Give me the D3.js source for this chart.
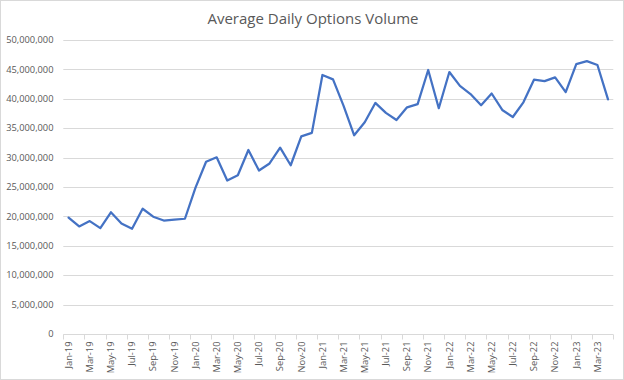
<!DOCTYPE html>
<html><head><meta charset="utf-8">
<script src="https://cdn.jsdelivr.net/npm/d3@7"></script>
<style>body{margin:0;background:#fff}svg{display:block}</style>
</head><body>
<svg id="c" width="624" height="380"></svg>
<script>
const categories = [
  "Jan-19","Feb-19","Mar-19","Apr-19","May-19","Jun-19","Jul-19","Aug-19","Sep-19","Oct-19","Nov-19","Dec-19",
  "Jan-20","Feb-20","Mar-20","Apr-20","May-20","Jun-20","Jul-20","Aug-20","Sep-20","Oct-20","Nov-20","Dec-20",
  "Jan-21","Feb-21","Mar-21","Apr-21","May-21","Jun-21","Jul-21","Aug-21","Sep-21","Oct-21","Nov-21","Dec-21",
  "Jan-22","Feb-22","Mar-22","Apr-22","May-22","Jun-22","Jul-22","Aug-22","Sep-22","Oct-22","Nov-22","Dec-22",
  "Jan-23","Feb-23","Mar-23","Apr-23"
];
const values = [
  19800000,18300000,19200000,18000000,20700000,18800000,17900000,21300000,19950000,19300000,19450000,19600000,
  24900000,29300000,30050000,26100000,27000000,31300000,27800000,29000000,31700000,28700000,33600000,34200000,
  44050000,43300000,38800000,33800000,36000000,39300000,37600000,36400000,38550000,39100000,44900000,38400000,
  44550000,42200000,40800000,38900000,40900000,38100000,36900000,39400000,43250000,43000000,43650000,41150000,
  45900000,46400000,45750000,39900000
];
const yTicks = [0,5e6,10e6,15e6,20e6,25e6,30e6,35e6,40e6,45e6,50e6];
const title = "Average Daily Options Volume";

const svg = d3.select("#c");
svg.append("rect").attr("x",0.5).attr("y",0.5).attr("width",623).attr("height",379)
  .attr("fill","#fff").attr("stroke","#d9d9d9");

const pLeft = 63.3, pRight = 613.3, pTop = 40, pBottom = 334;
const x = d3.scaleBand().domain(categories).range([pLeft, pRight]).padding(0);
const y = d3.scaleLinear().domain([0, 50e6]).range([pBottom, pTop]);
const font = "'Open Sans', 'Liberation Sans', sans-serif";

svg.append("g").selectAll("line").data(yTicks.filter(d => d > 0)).join("line")
  .attr("x1", pLeft).attr("x2", pRight)
  .attr("y1", d => Math.round(y(d)) + 0.5).attr("y2", d => Math.round(y(d)) + 0.5)
  .attr("stroke", "#d9d9d9").attr("stroke-width", 1);

const fmt = d3.format(",");
svg.append("g").selectAll("text").data(yTicks).join("text")
  .attr("x", 53.5).attr("y", d => y(d)).attr("dy", "0.35em")
  .attr("text-anchor", "end").attr("font-family", font).attr("font-size", 9.3)
  .attr("fill", "#595959").text(d => fmt(d));

const xAxis = svg.append("g").attr("transform", `translate(0,${pBottom + 0.5})`);
xAxis.append("line").attr("x1", pLeft).attr("x2", pRight).attr("stroke", "#d9d9d9");
const tickCats = categories.filter((d, i) => i % 2 === 0);
const tickPos = tickCats.map(d => x(d)).concat([pRight]);
xAxis.selectAll("line.t").data(tickPos).join("line").attr("class","t")
  .attr("x1", d => Math.round(d) + 0.5).attr("x2", d => Math.round(d) + 0.5)
  .attr("y1", 0).attr("y2", 5).attr("stroke", "#d9d9d9");
xAxis.selectAll("text").data(tickCats).join("text")
  .attr("transform", d => `translate(${x(d) + x.bandwidth() / 2},7) rotate(-90)`)
  .attr("text-anchor", "end").attr("dy", "0.35em")
  .attr("font-family", font).attr("font-size", 9.3).attr("fill", "#595959")
  .text(d => d);

const line = d3.line().x((d, i) => x(categories[i]) + x.bandwidth() / 2).y(d => y(d));
svg.append("path").datum(values).attr("d", line).attr("fill", "none")
  .attr("stroke", "#4472C4").attr("stroke-width", 2.25).attr("stroke-linejoin", "round").attr("stroke-linecap", "round");

svg.append("text").attr("x", 313).attr("y", 24).attr("text-anchor", "middle")
  .attr("font-family", font).attr("font-size", 15).attr("fill", "#595959").text(title);
</script>
</body></html>
